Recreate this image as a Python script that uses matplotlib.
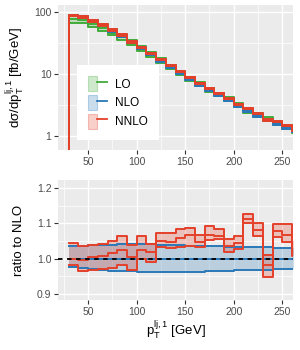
import numpy as np
import matplotlib
matplotlib.use('Agg')
import matplotlib.pyplot as plt
from matplotlib.patches import Patch
from matplotlib.lines import Line2D
from matplotlib.legend_handler import HandlerTuple
from matplotlib.ticker import FixedLocator, NullFormatter

plt.rcParams['font.family'] = ['Liberation Sans', 'DejaVu Sans']
plt.rcParams['mathtext.fontset'] = 'custom'
plt.rcParams['mathtext.rm'] = 'Liberation Sans'
plt.rcParams['mathtext.it'] = 'Liberation Sans:italic'
plt.rcParams['mathtext.bf'] = 'Liberation Sans:bold'

nan = np.nan

# bin edges in GeV (first bin is the empty underflow bin, last one is cut by the axis)
edges = [20, 30, 40, 50, 60, 70, 80, 90, 100, 110, 120, 130, 140, 150,
         160, 170, 180, 190, 200, 210, 220, 230, 240, 250, 260, 270]

# NLO central cross section [fb/GeV]
nlo = [0, 88, 84, 72, 61, 50.5, 41.7, 33, 26.2, 21.2, 16.5, 13.0, 10.3, 8.3,
       6.76, 5.5, 4.58, 3.85, 3.1, 2.52, 2.13, 1.83, 1.58, 1.36, 1.18]

# everything below relative to NLO central
nlo_dn = [nan, 0.976, 0.973, 0.970, 0.968, 0.966, 0.965, 0.964, 0.962,
          0.961, 0.961, 0.961, 0.962, 0.962, 0.963, 0.964, 0.965,
          0.966, 0.967, 0.967, 0.968, 0.969, 0.970, 0.972, 0.972]
nlo_up = [nan, 1.035, 1.036, 1.038, 1.039, 1.040, 1.041, 1.041, 1.042,
          1.041, 1.040, 1.039, 1.038, 1.036, 1.036, 1.035, 1.035,
          1.034, 1.033, 1.033, 1.032, 1.032, 1.031, 1.031, 1.031]

nnlo_dn = [nan, 0.982, 0.966, 0.967, 0.972, 0.975, 0.982, 0.967, 0.998,
           0.992, 1.033, 1.030, 1.033, 1.035, 1.032, 1.052, 1.055,
           1.020, 1.028, 1.100, 1.065, 0.948, 1.062, 1.048, 1.008]
nnlo_c = [nan, 0.999, 0.996, 1.004, 1.008, 1.015, 1.024, 1.004, 1.025,
          1.018, 1.050, 1.048, 1.060, 1.066, 1.048, 1.068, 1.065,
          1.036, 1.045, 1.113, 1.082, 0.982, 1.078, 1.068, 1.030]
nnlo_up = [nan, 1.045, 1.037, 1.040, 1.043, 1.050, 1.064, 1.040, 1.063,
           1.043, 1.073, 1.072, 1.085, 1.087, 1.067, 1.093, 1.083,
           1.057, 1.065, 1.126, 1.100, 1.010, 1.097, 1.097, 1.050]

lo_dn = [nan, 0.77, 0.79, 0.81, 0.83, 0.85, 0.87, 0.88, 0.89,
         0.90, 0.91, 0.92, 0.93, 0.93, 0.94, 0.94, 0.95,
         0.95, 0.95, 0.95, 0.955, 0.955, 0.955, 0.955, 0.955]
lo_c = [nan, 0.89, 0.90, 0.91, 0.92, 0.93, 0.94, 0.95, 0.96,
        0.97, 0.98, 0.98, 0.99, 0.99, 1.00, 1.00, 1.00,
        1.01, 1.01, 1.01, 1.01, 1.02, 1.02, 1.02, 1.02]
lo_up = [nan, 1.02, 1.03, 1.04, 1.05, 1.06, 1.07, 1.08, 1.08,
         1.09, 1.09, 1.09, 1.10, 1.10, 1.10, 1.10, 1.10,
         1.10, 1.10, 1.10, 1.10, 1.10, 1.10, 1.10, 1.10]

labels = ['LO', 'NLO', 'NNLO']
colors = ['#41ab3a', '#2a78b8', '#e4402a']

xs = np.array(edges)
nlo = np.array(nlo)
nlo_c = [nan] + [1.0] * (len(nlo) - 1)
orders = [(lo_dn, lo_c, lo_up), (nlo_dn, nlo_c, nlo_up), (nnlo_dn, nnlo_c, nnlo_up)]


def ext(v):
    v = np.asarray(v, dtype=float)
    return np.append(v, v[-1])


def style(ax):
    ax.set_facecolor('#EBEBEB')
    for s in ax.spines.values():
        s.set_visible(False)
    ax.set_axisbelow(True)
    ax.grid(which='major', color='white', lw=1.0)
    ax.grid(which='minor', color='white', lw=0.5)
    ax.tick_params(which='major', length=2.75, width=0.8, color='#333333',
                   labelcolor='#4D4D4D', labelsize=7.5, pad=2)
    ax.tick_params(which='minor', length=0)
    ax.set_xlim(19, 261)
    ax.xaxis.set_major_locator(FixedLocator([50, 100, 150, 200, 250]))
    ax.xaxis.set_minor_locator(FixedLocator([25, 75, 125, 175, 225]))


fig = plt.figure(figsize=(3, 3.5), dpi=100)
ax1 = fig.add_axes([58 / 300, 1 - 150 / 350, 235 / 300, 145 / 350])
ax2 = fig.add_axes([58 / 300, 1 - 300 / 350, 235 / 300, 120 / 350])

# top panel: absolute distributions
ax1.set_yscale('log', nonpositive='clip')
for (dn, c, up), col in zip(orders, colors):
    lo_abs = np.nan_to_num(nlo * np.array(dn))
    c_abs = np.nan_to_num(nlo * np.array(c))
    up_abs = np.nan_to_num(nlo * np.array(up))
    ax1.fill_between(xs, ext(lo_abs), ext(up_abs), step='post', color=col,
                     alpha=0.25, lw=0)
    for v in (lo_abs, up_abs, c_abs):
        ax1.plot(xs, ext(v), drawstyle='steps-post', color=col, lw=1.4)

style(ax1)
ax1.set_ylim(0.594, 131)
ax1.yaxis.set_major_locator(FixedLocator([1, 10, 100]))
ax1.yaxis.set_major_formatter(matplotlib.ticker.FixedFormatter(['1', '10', '100']))
ax1.yaxis.set_minor_locator(FixedLocator([10 ** 0.5, 10 ** 1.5]))
ax1.yaxis.set_minor_formatter(NullFormatter())
ax1.set_ylabel('dσ/dp$_\\mathrm{T}^\\mathrm{lj,1}$ [fb/GeV]', fontsize=9.5)
ax1.yaxis.set_label_coords(-0.135, 0.5)

handles = []
for col in colors:
    handles.append((Patch(facecolor=matplotlib.colors.to_rgba(col, 0.25),
                          edgecolor=matplotlib.colors.to_rgba(col, 0.3), lw=0.8),
                    Line2D([], [], color=col, lw=1.3)))
leg = ax1.legend(handles, labels, handler_map={tuple: HandlerTuple(ndivide=None, pad=0)},
                 loc='upper left', bbox_to_anchor=(0.081, 0.586), borderaxespad=0,
                 frameon=True, fancybox=False, framealpha=1, edgecolor='none',
                 fontsize=8.5, handlelength=1.55, handleheight=1.6,
                 labelspacing=0.3, handletextpad=0.7, borderpad=0.95)
leg.get_frame().set_linewidth(0)

# bottom panel: ratio to NLO
for (dn, c, up), col in list(zip(orders, colors))[1:]:
    ax2.fill_between(xs, ext(dn), ext(up), step='post', color=col, alpha=0.25, lw=0)
    for v in (dn, up, c):
        ax2.plot(xs, ext(v), drawstyle='steps-post', color=col, lw=1.4)
ax2.axhline(1.0, color='black', lw=1.3, ls=(0, (2.5, 2.5)))

style(ax2)
ax2.set_ylim(0.883, 1.223)
ax2.yaxis.set_major_locator(FixedLocator([0.9, 1.0, 1.1, 1.2]))
ax2.yaxis.set_major_formatter(matplotlib.ticker.FormatStrFormatter('%.1f'))
ax2.yaxis.set_minor_locator(FixedLocator([0.95, 1.05, 1.15]))
ax2.yaxis.set_minor_formatter(NullFormatter())
ax2.set_ylabel('ratio to NLO', fontsize=9.5)
ax2.yaxis.set_label_coords(-0.14, 0.5)
ax2.set_xlabel('p$_\\mathrm{T}^\\mathrm{lj,1}$ [GeV]', fontsize=9.5, labelpad=2)

fig.savefig('out.png', dpi=100)
